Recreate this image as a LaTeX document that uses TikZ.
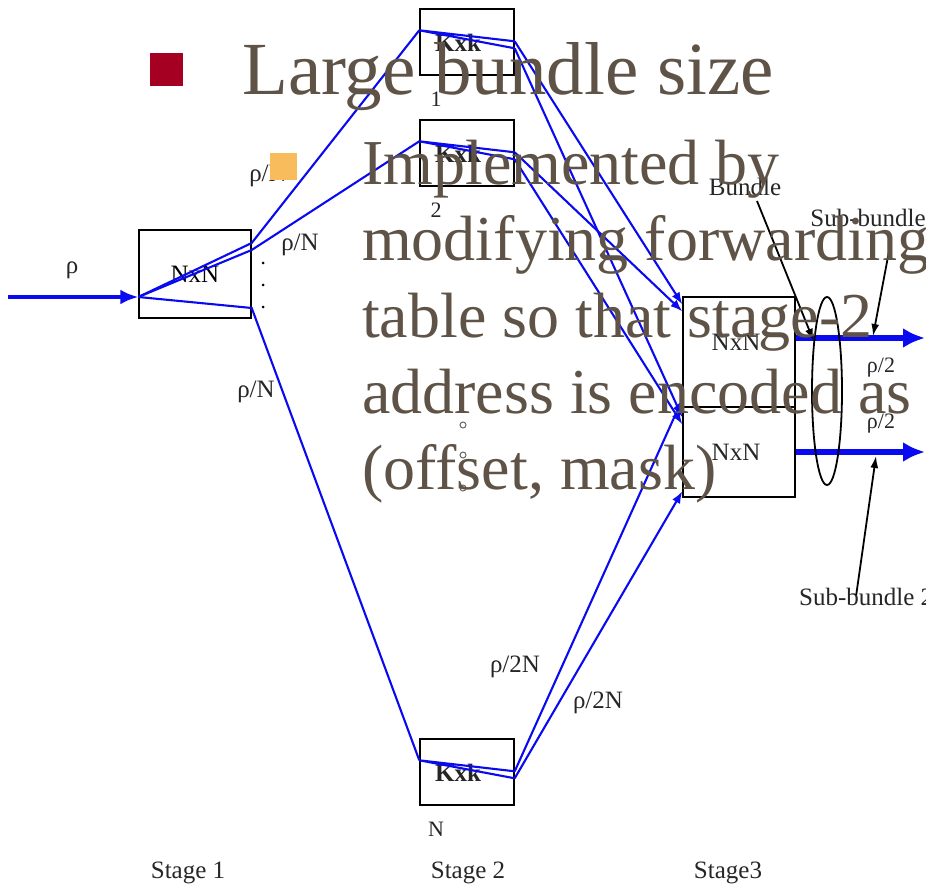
\documentclass[tikz,border=0pt]{standalone}
\usepackage{fontspec}
\setmainfont{Liberation Serif}
\usetikzlibrary{arrows.meta,calc,positioning,shapes.geometric}
\definecolor{linkblue}{HTML}{0A0AF0}
\definecolor{slidetext}{HTML}{5E5346}
\definecolor{bulletred}{HTML}{A50021}
\definecolor{bulletgold}{HTML}{F8BC5C}

\begin{document}
\begin{tikzpicture}[x=1pt,y=-1pt,>=Latex,
    box/.style={draw,line width=1.4pt,inner sep=0pt,font=\fontsize{25}{27}\selectfont},
    link/.style={draw=linkblue,line width=2.1pt},
    feed/.style={link,-{Latex[length=12pt,width=9pt]}},
    fat/.style={draw=linkblue,line width=5.5pt,-{Latex[length=22pt,width=20pt]}},
    tag/.style={font=\fontsize{25}{27}\selectfont,text=black!85,inner sep=1pt},
    pointer/.style={line width=1.8pt,black,-{Latex[length=12pt,width=8pt]}},
    slide/.style={font=\fontsize{64}{76}\selectfont,text=slidetext,inner sep=0pt,anchor=base west}]
  \useasboundingbox (0,0) rectangle (926,893);

  % stage 1
  \node[box,minimum width=112pt,minimum height=88pt] (s1) at (195,274) {NxN};
  \coordinate (s1-in) at ($(s1.west)+(0,23)$);
  \coordinate (s1-a) at ($(s1.east)+(0,-31)$);
  \coordinate (s1-b) at ($(s1.east)+(0,-24)$);
  \coordinate (s1-c) at ($(s1.east)+(0,34)$);
  \coordinate (src) at (8,297);
  \draw[draw=linkblue,line width=4.5pt,-{Latex[length=18pt,width=15pt]}] (src) -- (s1-in);
  \node[tag] (rho) at (72,270) {ρ};
  \foreach \y in {263,285,307}
    \fill (263,\y) circle (1.5pt);

  % stage 2
  \foreach \n/\y in {1/42,2/153,N/772}{
    \node[box,minimum width=94pt,minimum height=66pt] (k\n) at (467,\y) {};
    \node[tag,font=\bfseries\fontsize{25}{27}\selectfont] (kl\n) at (458,\y+1) {Kxk};
    \node[tag,font=\fontsize{22}{24}\selectfont] (num\n) at (436,\y+57) {\n};
    \coordinate (k\n-in) at ($(k\n.north west)+(0,22)$);
    \coordinate (k\n-a) at ($(k\n.north east)+(0,33)$);
    \coordinate (k\n-b) at ($(k\n.north east)+(0,40)$);
    \draw[link] (k\n-in) -- (k\n-a) (k\n-in) -- (k\n-b);
  }
  \draw[link] (s1-in) -- (s1-a) -- (k1-in);
  \draw[link] (s1-in) -- (s1-b) -- (k2-in);
  \draw[link] (s1-in) -- (s1-c) -- (kN-in);
  \foreach \y in {425,455,488}
    \draw[black!60,line width=1pt] (463,\y) circle (3pt);

  % stage 3
  \node[box,minimum width=112pt,minimum height=110pt] (s3a) at (739,352) {};
  \node[box,minimum width=112pt,minimum height=90pt] (s3b) at (739,452) {};
  \node[tag] (s3al) at (736,342) {NxN};
  \node[tag] (s3bl) at (736,452) {NxN};
  \coordinate (s3a-1) at ($(s3a.north west)+(0,8)$);
  \coordinate (s3a-2) at ($(s3a.north west)+(0,15)$);
  \coordinate (s3a-3) at ($(s3a.north west)+(0,103)$);
  \coordinate (s3b-1) at ($(s3b.north west)+(0,11)$);
  \coordinate (s3b-2) at ($(s3b.north west)+(0,18)$);
  \coordinate (s3b-3) at ($(s3b.north west)+(0,85)$);
  \draw[feed] (k1-a) -- (s3a-1);
  \draw[feed] (k2-a) -- (s3a-2);
  \draw[feed] (kN-a) -- (s3a-3);
  \draw[feed] (k1-b) -- (s3b-1);
  \draw[feed] (k2-b) -- (s3b-2);
  \draw[feed] (kN-b) -- (s3b-3);

  % outputs and bundle
  \coordinate (o1) at (925,338);
  \coordinate (o2) at (925,452);
  \draw[fat] ($(s3a.east)+(0,-14)$) -- (o1);
  \draw[fat] (s3b.east) -- (o2);
  \node[ellipse,draw,line width=1.8pt,minimum width=30pt,minimum height=188pt,inner sep=0pt] (bnd) at (827,391) {};
  \node[tag] (bndlbl) at (745,187) {Bundle};
  \node[tag] (sb1) at (868,218) {Sub-bundle};
  \node[tag,anchor=west] (sb2) at (798,597) {Sub-bundle 2};
  \coordinate (sb1-tip) at (873,336);
  \coordinate (sb2-tip) at (876,456);
  \draw[pointer] ([xshift=12pt,yshift=-4pt]bndlbl.south) -- (bnd.105);
  \draw[pointer] ([xshift=22pt,yshift=-18pt]sb1.south) -- (sb1-tip);
  \draw[pointer] ([xshift=-10pt,yshift=-8pt]sb2.north) -- (sb2-tip);

  % rates
  \node[tag,font=\fontsize{22}{24}\selectfont] (r2a) at (881,368) {ρ/2};
  \node[tag,font=\fontsize{22}{24}\selectfont] (r2b) at (881,424) {ρ/2};
  \node[tag] (rn1) at (268,176) {ρ/N};
  \node[tag] (rn2) at (300,245) {ρ/N};
  \node[tag] (rn3) at (256,392) {ρ/N};
  \node[tag] (r2n1) at (515,667) {ρ/2N};
  \node[tag] (r2n2) at (598,703) {ρ/2N};

  % stage captions
  \node[tag] (cap1) at (188,873) {Stage 1};
  \node[tag] (cap2) at (468,873) {Stage 2};
  \node[tag] (cap3) at (728,873) {Stage3};

  % slide text on top
  \fill[bulletred] (150,53) rectangle (183,86);
  \node[slide,font=\fontsize{75}{80}\selectfont] (head) at (242,95) {Large bundle size};
  \fill[bulletgold] (270,153) rectangle (297,180);
  \foreach \t [count=\i] in {Implemented by,modifying forwarding,table so that stage-2,address is encoded as,{(offset, mask)}}
    \node[slide] (sub\i) at (362,109+76*\i) {\t};
\end{tikzpicture}
\end{document}
